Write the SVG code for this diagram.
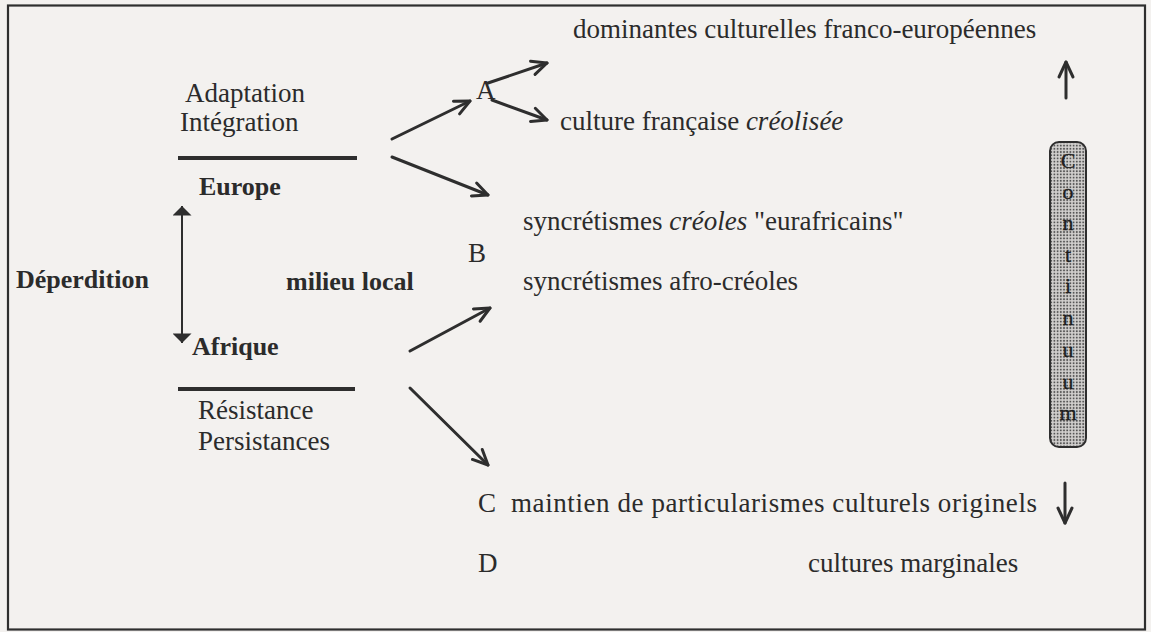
<svg xmlns="http://www.w3.org/2000/svg" width="1151" height="632" viewBox="0 0 1151 632">
<defs>
<style>
text{font-family:"Liberation Serif","Times New Roman",serif;font-size:27px;fill:#2b2b2b}
.b{font-weight:bold;font-size:26px}
.i{font-style:italic}
.c{stroke:#2e2e2e;stroke-width:3;fill:none;stroke-linecap:round}
.rule{stroke:#2e2e2e;stroke-width:4}
.lt{font-size:22px;text-anchor:middle;fill:#1e1e1e;stroke:#1e1e1e;stroke-width:0.3}
</style>
<marker id="open" viewBox="0 0 20 20" refX="18" refY="10" markerWidth="20" markerHeight="20" orient="auto" markerUnits="userSpaceOnUse">
<path d="M3,3 L18,10 L3,17" fill="none" stroke="#2e2e2e" stroke-width="3" stroke-linecap="round" stroke-linejoin="round"/>
</marker>
<marker id="tri" viewBox="0 0 10 20" refX="10" refY="10" markerWidth="10" markerHeight="19" orient="auto-start-reverse" markerUnits="userSpaceOnUse">
<path d="M0,0 L10,10 L0,20 Z" fill="#2e2e2e"/>
</marker>
<pattern id="dots" width="3.2" height="3.2" patternUnits="userSpaceOnUse">
<rect width="3.2" height="3.2" fill="#d2d0ce"/>
<circle cx="1.6" cy="1.6" r="1" fill="#555"/>
</pattern>
</defs>
<rect width="1151" height="632" fill="#f3f1ef"/>
<rect x="8" y="5.5" width="1137" height="624" fill="none" stroke="#2e2e2e" stroke-width="2.2"/>

<g id="title"><text x="573" y="38">dominantes culturelles franco-européennes</text></g>
<g id="adaptation"><text x="185" y="102">Adaptation</text><text x="180" y="131">Intégration</text></g>
<g id="rule-top"><line class="rule" x1="178" y1="158" x2="357" y2="158"/></g>
<g id="europe"><text class="b" x="199" y="195">Europe</text></g>
<g id="deperdition"><text class="b" x="16" y="288">Déperdition</text></g>
<g id="milieu"><text class="b" x="286" y="290">milieu local</text></g>
<g id="afrique"><text class="b" x="192" y="355">Afrique</text></g>
<g id="rule-bottom"><line class="rule" x1="178" y1="389" x2="355" y2="389"/></g>
<g id="resistance"><text x="198" y="419">Résistance</text><text x="198" y="450">Persistances</text></g>
<g id="nodeA"><text x="476" y="99">A</text></g>
<g id="creolisee"><text x="560" y="130">culture française <tspan class="i">créolisée</tspan></text></g>
<g id="eurafricains"><text x="523" y="230">syncrétismes <tspan class="i">créoles</tspan> "eurafricains"</text></g>
<g id="nodeB"><text x="468" y="262">B</text></g>
<g id="afrocreoles"><text x="523" y="290">syncrétismes afro-créoles</text></g>
<g id="nodeC"><text x="478" y="512">C</text><text x="511" y="512" textLength="526" lengthAdjust="spacing">maintien de particularismes culturels originels</text></g>
<g id="nodeD"><text x="478" y="572">D</text><text x="808" y="572">cultures marginales</text></g>

<g id="continuum">
<rect x="1050" y="142" width="36" height="305" rx="9" fill="url(#dots)" stroke="#2e2e2e" stroke-width="2"/>
<text class="lt" x="1068" y="168">C</text>
<text class="lt" x="1068" y="199">o</text>
<text class="lt" x="1068" y="230">n</text>
<text class="lt" x="1068" y="262">t</text>
<text class="lt" x="1068" y="293">i</text>
<text class="lt" x="1068" y="325">n</text>
<text class="lt" x="1068" y="357">u</text>
<text class="lt" x="1068" y="389">u</text>
<text class="lt" x="1068" y="420">m</text>
</g>

<g id="connectors">
<line class="c" x1="392" y1="139" x2="470" y2="101" marker-end="url(#open)"/>
<line class="c" x1="392" y1="157" x2="488" y2="195" marker-end="url(#open)"/>
<line class="c" x1="488" y1="83" x2="547" y2="63" marker-end="url(#open)"/>
<line class="c" x1="492" y1="100" x2="547" y2="120" marker-end="url(#open)"/>
<line class="c" x1="410" y1="351" x2="490" y2="308" marker-end="url(#open)"/>
<line class="c" x1="410" y1="388" x2="488" y2="465" marker-end="url(#open)"/>
<line stroke="#2e2e2e" stroke-width="2" x1="182" y1="343" x2="182" y2="206" marker-end="url(#tri)" marker-start="url(#tri)"/>
<line class="c" stroke-width="2.5" x1="1066" y1="98" x2="1066" y2="62" marker-end="url(#open)"/>
<line class="c" stroke-width="2.5" x1="1065" y1="483" x2="1065" y2="523" marker-end="url(#open)"/>
</g>
</svg>
